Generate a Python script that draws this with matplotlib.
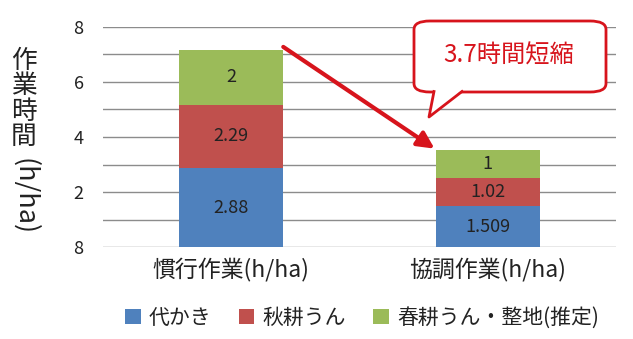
import numpy as np
import matplotlib.pyplot as plt
from matplotlib.patches import FancyBboxPatch, Polygon
from matplotlib.lines import Line2D

plt.rcParams['font.family'] = ['Noto Sans CJK JP', 'DejaVu Sans']

# データ
categories = ['慣行作業(h/ha)', '協調作業(h/ha)']
series_names = ['代かき', '秋耕うん', '春耕うん・整地(推定)']
shirokaki = [2.88, 1.509]
shukou = [2.29, 1.02]
shunkou = [2, 1]
value_labels = [['2.88', '1.509'], ['2.29', '1.02'], ['2', '1']]
ytick_values = [0, 2, 4, 6, 8]
ytick_labels = ['8', '2', '4', '6', '8']
callout_text = '3.7時間短縮'

colors = ['#4f81bd', '#c0504d', '#9bbb59']
red = '#d7141c'
txt = '#222222'

fig = plt.figure(figsize=(6.33, 3.39), dpi=100)
ax = fig.add_axes([0.163, 0.2705, 0.81, 0.6505])

x = np.arange(len(categories))
width = 0.405
bottom = np.zeros(len(categories))
for vals, col, name, labs in zip([shirokaki, shukou, shunkou], colors, series_names, value_labels):
    bars = ax.bar(x, vals, width, bottom=bottom, color=col, label=name, zorder=3)
    for b, v, lab in zip(bars, vals, labs):
        ax.text(b.get_x() + b.get_width() / 2, b.get_y() + v / 2, lab,
                ha='center', va='center', fontsize=13, color=txt, zorder=4)
    bottom += np.array(vals)

ax.set_xlim(-0.5, 1.5)
ax.set_ylim(0, 8)
ax.set_yticks(ytick_values)
ax.set_yticklabels(ytick_labels, fontsize=13, color=txt)
ax.set_yticks(np.arange(0, 9, 1), minor=True)
ax.grid(axis='y', which='both', color='#8c8c8c', linewidth=1, zorder=0)
ax.tick_params(axis='y', which='both', length=0, pad=14)
ax.set_xticks(x)
ax.set_xticklabels(categories, fontsize=16.5, color=txt)
ax.tick_params(axis='x', length=0, pad=7)
for s in ax.spines.values():
    s.set_visible(False)

# 矢印
ax.annotate('', xy=(1 - width / 2 - 0.005, bottom[1] + 0.05),
            xytext=(width / 2, bottom[0] + 0.1),
            arrowprops=dict(arrowstyle='-|>,head_length=1.0,head_width=0.5',
                            color=red, lw=3, shrinkA=0, shrinkB=0),
            zorder=5)

# 吹き出し
W, H = 633.0, 339.0
def fx(px):
    return px / W
def fy(py):
    return 1 - py / H

box = FancyBboxPatch((fx(414), fy(92)), fx(606) - fx(414), fy(21) - fy(92),
                     boxstyle='round,pad=0,rounding_size=0.025',
                     transform=fig.transFigure, facecolor='white',
                     edgecolor=red, linewidth=2, zorder=6)
fig.patches.append(box)
tail = Polygon([(fx(434), fy(90)), (fx(429), fy(117)), (fx(462), fy(90))],
               closed=True, transform=fig.transFigure, facecolor='white',
               edgecolor='none', zorder=7)
fig.patches.append(tail)
fig.lines.append(Line2D([fx(434), fx(429), fx(462)], [fy(91.5), fy(117), fy(91.5)],
                        transform=fig.transFigure, color=red, linewidth=2, zorder=8))
fig.text(fx(509), fy(56), callout_text, ha='center', va='center',
         fontsize=17.5, color=red, zorder=9)

# 縦軸ラベル
fig.text(fx(24), fy(99), '作\n業\n時\n間', ha='center', va='center',
         fontsize=18.5, color=txt, linespacing=0.98)
fig.text(fx(24), fy(197), '(h/ha)', ha='center', va='center',
         fontsize=19.5, color=txt, rotation=270)

fig.legend(loc='center', bbox_to_anchor=(fx(362), fy(318)), ncol=3, frameon=False,
           fontsize=15, handlelength=0.75, handleheight=0.75, handletextpad=0.4,
           columnspacing=1.3, labelcolor=txt)

fig.savefig('out.png', dpi=100)
